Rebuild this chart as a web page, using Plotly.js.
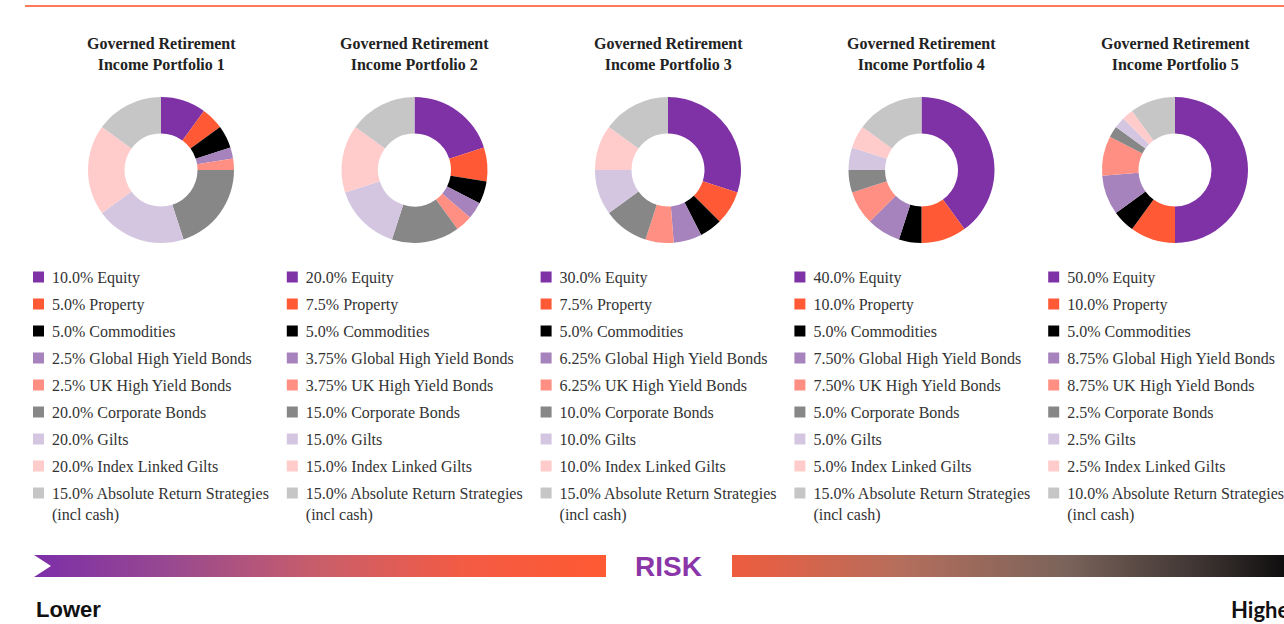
<!DOCTYPE html>
<html>
<head>
<meta charset="utf-8">
<script src="https://cdn.plot.ly/plotly-3.0.1.min.js"></script>
<style>html,body{margin:0;padding:0;background:#fff;}#chart{width:1284px;height:624px;}</style>
</head>
<body>
<div id="chart"></div>
<script>
// ---- data ----
const categories = ['Equity','Property','Commodities','Global High Yield Bonds','UK High Yield Bonds','Corporate Bonds','Gilts','Index Linked Gilts','Absolute Return Strategies<br>(incl cash)'];
const colors = ['#7f31a6','#ff5a35','#000000','#a683bd','#ff8f82','#878787','#d4c6e0','#ffcccb','#c6c6c6'];
const portfolioNames = ['Governed Retirement<br>Income Portfolio 1','Governed Retirement<br>Income Portfolio 2','Governed Retirement<br>Income Portfolio 3','Governed Retirement<br>Income Portfolio 4','Governed Retirement<br>Income Portfolio 5'];
const p1Values = [10,5,5,2.5,2.5,20,20,20,15];
const p2Values = [20,7.5,5,3.75,3.75,15,15,15,15];
const p3Values = [30,7.5,5,6.25,6.25,10,10,10,15];
const p4Values = [40,10,5,7.5,7.5,5,5,5,15];
const p5Values = [50,10,5,8.75,8.75,2.5,2.5,2.5,10];
const p1Labels = ['10.0%','5.0%','5.0%','2.5%','2.5%','20.0%','20.0%','20.0%','15.0%'];
const p2Labels = ['20.0%','7.5%','5.0%','3.75%','3.75%','15.0%','15.0%','15.0%','15.0%'];
const p3Labels = ['30.0%','7.5%','5.0%','6.25%','6.25%','10.0%','10.0%','10.0%','15.0%'];
const p4Labels = ['40.0%','10.0%','5.0%','7.50%','7.50%','5.0%','5.0%','5.0%','15.0%'];
const p5Labels = ['50.0%','10.0%','5.0%','8.75%','8.75%','2.5%','2.5%','2.5%','10.0%'];
const riskLabels = ['Lower','RISK','Higher'];

const allValues = [p1Values,p2Values,p3Values,p4Values,p5Values];
const allLabels = [p1Labels,p2Labels,p3Labels,p4Labels,p5Labels];

// ---- layout geometry ----
const W = 1284, H = 624;
const centers = [161, 414.5, 668, 921.5, 1175];
const cy = 170, R = 73;
const keyX = [38.5, 292.3, 546.1, 799.9, 1053.7];
const rowTop = 277, rowGap = 27;
const serif = 'Liberation Serif, Times New Roman, serif';

const traces = [];
allValues.forEach((vals, i) => {
  traces.push({
    type: 'pie',
    values: vals,
    labels: categories,
    marker: {colors: colors, line: {width: 0}},
    hole: 0.5,
    sort: false,
    direction: 'clockwise',
    rotation: 0,
    textinfo: 'none',
    hoverinfo: 'none',
    showlegend: false,
    domain: {x: [(centers[i] - R) / W, (centers[i] + R) / W], y: [(H - cy - R) / H, (H - cy + R) / H]}
  });
  const rows = categories.map((c, j) => rowTop + rowGap * j);
  // key squares
  traces.push({
    type: 'scatter', mode: 'markers', xaxis: 'x', yaxis: 'y', showlegend: false, hoverinfo: 'skip',
    x: categories.map(() => keyX[i]), y: rows,
    marker: {symbol: 'square', size: 11, color: colors, line: {width: 0}}
  });
  // key texts
  traces.push({
    type: 'scatter', mode: 'text', xaxis: 'x', yaxis: 'y', showlegend: false, hoverinfo: 'skip',
    x: categories.map(() => keyX[i] + 13.5), y: rows.map(r => r - 6),
    text: categories.map((c, j) => allLabels[i][j] + ' ' + c),
    textposition: 'bottom right',
    textfont: {family: serif, size: 16, color: '#333333'}
  });
});

// risk bars (decorative)
traces.push({
  type: 'scatter', mode: 'lines', xaxis: 'x', yaxis: 'y', showlegend: false, hoverinfo: 'skip',
  x: [34, 606, 606, 34, 51, 34], y: [555, 555, 577, 577, 566, 555],
  fill: 'toself', line: {width: 0, color: 'rgba(0,0,0,0)'},
  fillgradient: {type: 'horizontal', colorscale: [[0, '#7c2fa9'], [0.25, '#9a4a8e'], [0.5, '#c95e6a'], [0.75, '#f35b44'], [1, '#ff5a33']]}
});
traces.push({
  type: 'scatter', mode: 'lines', xaxis: 'x', yaxis: 'y', showlegend: false, hoverinfo: 'skip',
  x: [732, 1290, 1290, 732, 732], y: [555, 555, 577, 577, 555],
  fill: 'toself', line: {width: 0, color: 'rgba(0,0,0,0)'},
  fillgradient: {type: 'horizontal', colorscale: [[0, '#ef5c3e'], [0.3, '#b56e5c'], [0.6, '#7a635a'], [0.85, '#3b3230'], [1, '#0c0c0c']]}
});

const annotations = portfolioNames.map((t, i) => ({
  text: '<b>' + t + '</b>', x: centers[i], y: 54, xref: 'x', yref: 'y',
  xanchor: 'center', yanchor: 'middle', showarrow: false, align: 'center',
  font: {family: serif, size: 16, color: '#222222'}
}));
annotations.push({text: '<b>' + riskLabels[0] + '</b>', x: 34, y: 609, xref: 'x', yref: 'y', xanchor: 'left', yanchor: 'middle', showarrow: false,
  font: {family: 'Liberation Sans, Arial, sans-serif', size: 22, color: '#111111'}});
annotations.push({text: '<b>' + riskLabels[1] + '</b>', x: 668, y: 566, xref: 'x', yref: 'y', xanchor: 'center', yanchor: 'middle', showarrow: false,
  font: {family: 'Liberation Sans, Arial, sans-serif', size: 28, color: '#8a36a8'}});
annotations.push({text: '<b>' + riskLabels[2] + '</b>', x: 1229, y: 609, xref: 'x', yref: 'y', xanchor: 'left', yanchor: 'middle', showarrow: false,
  font: {family: 'Lato, Liberation Sans, sans-serif', size: 22, color: '#111111'}});

const layout = {
  width: W, height: H,
  margin: {l: 0, r: 0, t: 0, b: 0, pad: 0, autoexpand: false},
  paper_bgcolor: '#ffffff', plot_bgcolor: 'rgba(0,0,0,0)',
  showlegend: false,
  xaxis: {range: [0, W], domain: [0, 1], visible: false, fixedrange: true},
  yaxis: {range: [H, 0], domain: [0, 1], visible: false, fixedrange: true},
  shapes: [{type: 'line', xref: 'x', yref: 'y', x0: 25, x1: W, y0: 6, y1: 6, line: {color: '#ff7a5a', width: 2}}],
  annotations: annotations
};

Plotly.newPlot('chart', traces, layout, {displayModeBar: false, staticPlot: true});
</script>
</body>
</html>
